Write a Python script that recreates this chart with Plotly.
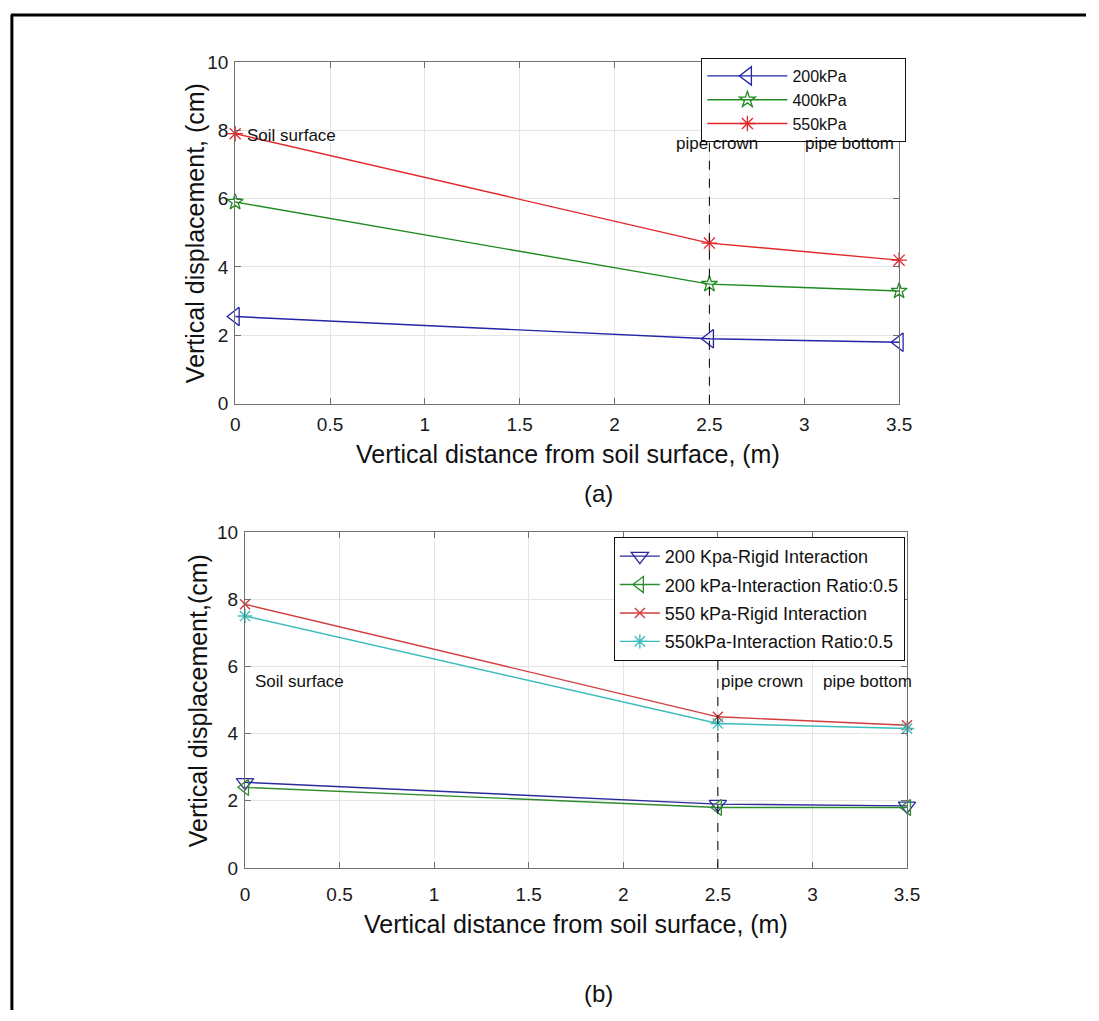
import plotly.graph_objects as go

# ---- data -------------------------------------------------------------
depth = [0, 2.5, 3.5]                      # vertical distance from soil surface (m)
pipe_crown_depth = 2.5

# (a) displacement for three surface pressures (cm)
disp_200kpa = [2.55, 1.9, 1.8]
disp_400kpa = [5.9, 3.5, 3.3]
disp_550kpa = [7.9, 4.7, 4.2]

# (b) rigid vs. partial interaction (cm)
disp_200_rigid = [2.55, 1.9, 1.85]
disp_200_ratio05 = [2.4, 1.8, 1.8]
disp_550_rigid = [7.85, 4.5, 4.25]
disp_550_ratio05 = [7.5, 4.3, 4.15]

x_ticks = [0, 0.5, 1, 1.5, 2, 2.5, 3, 3.5]
x_tick_text = ["0", "0.5", "1", "1.5", "2", "2.5", "3", "3.5"]
y_ticks = [0, 2, 4, 6, 8, 10]

W, H = 1099, 1021
FONT = "Liberation Sans, Arial, sans-serif"
PAD = "\u00a0" * 12   # extra room on the right of the short legend labels


def px(v):
    return v / W


def py(v):
    return 1 - v / H


fig = go.Figure()

# ---- panel (a) ----------------------------------------------------------
fig.add_trace(go.Scatter(
    x=depth, y=disp_200kpa, name="200kPa" + PAD, mode="lines+markers",
    line=dict(color="#2424a8", width=1.4),
    marker=dict(symbol="triangle-left-open", size=16, color="#2424a8", line=dict(width=1.3)),
    cliponaxis=False, xaxis="x", yaxis="y", legend="legend"))
fig.add_trace(go.Scatter(
    x=depth, y=disp_400kpa, name="400kPa" + PAD, mode="lines+markers",
    line=dict(color="#1f8a1f", width=1.4),
    marker=dict(symbol="star-open", size=12, color="#1f8a1f", line=dict(width=1.3)),
    cliponaxis=False, xaxis="x", yaxis="y", legend="legend"))
fig.add_trace(go.Scatter(
    x=depth, y=disp_550kpa, name="550kPa" + PAD, mode="lines+markers",
    line=dict(color="#e3262a", width=1.4),
    marker=dict(symbol="asterisk-open", size=13, color="#e3262a", line=dict(width=1.3, color="#e3262a")),
    cliponaxis=False, xaxis="x", yaxis="y", legend="legend"))

# ---- panel (b) ----------------------------------------------------------
fig.add_trace(go.Scatter(
    x=depth, y=disp_200_rigid, name="200 Kpa-Rigid Interaction", mode="lines+markers",
    line=dict(color="#2b2b9c", width=1.4),
    marker=dict(symbol="triangle-down-open", size=15, color="#2b2b9c", line=dict(width=1.3)),
    cliponaxis=False, xaxis="x2", yaxis="y2", legend="legend2", legendgroup="b1"))
fig.add_trace(go.Scatter(
    x=depth, y=disp_200_ratio05, name="200 kPa-Interaction Ratio:0.5", mode="lines+markers",
    line=dict(color="#2e8c2e", width=1.4),
    marker=dict(symbol="triangle-left-open", size=14, color="#2e8c2e", line=dict(width=1.3)),
    cliponaxis=False, xaxis="x2", yaxis="y2", legend="legend2", legendgroup="b2"))
fig.add_trace(go.Scatter(
    x=depth, y=disp_550_rigid, name="550 kPa-Rigid Interaction", mode="lines+markers",
    line=dict(color="#d23c3c", width=1.4),
    marker=dict(symbol="x-thin-open", size=10, color="#d23c3c", line=dict(width=1.4, color="#d23c3c")),
    cliponaxis=False, xaxis="x2", yaxis="y2", legend="legend2", legendgroup="b3"))
fig.add_trace(go.Scatter(
    x=depth, y=disp_550_ratio05, name="550kPa-Interaction Ratio:0.5", mode="lines+markers",
    line=dict(color="#3cbcbc", width=1.4),
    marker=dict(symbol="asterisk-open", size=12, color="#3cbcbc", line=dict(width=1.4, color="#3cbcbc")),
    cliponaxis=False, xaxis="x2", yaxis="y2", legend="legend2", legendgroup="b4"))

axis_common = dict(
    showline=True, linecolor="#6f6f6f", linewidth=1.2, mirror="ticks",
    ticks="inside", ticklen=6, tickcolor="#6f6f6f", tickwidth=1,
    showgrid=True, gridcolor="#e4e4e4", gridwidth=1, zeroline=False,
    tickfont=dict(family=FONT, size=19, color="#1a1a1a"),
)

fig.update_layout(
    width=W, height=H, margin=dict(l=0, r=0, t=0, b=0),
    paper_bgcolor="white", plot_bgcolor="white",
    font=dict(family=FONT, color="#111"),
    xaxis=dict(domain=[px(234), px(909)], range=[0, 3.5], tickvals=x_ticks, ticktext=x_tick_text,
               anchor="y", ticklabelstandoff=3, **axis_common),
    yaxis=dict(domain=[py(402), py(53)], range=[0, 10], tickvals=y_ticks, anchor="x",
               ticklabelstandoff=2, **axis_common),
    xaxis2=dict(domain=[px(244), px(917)], range=[0, 3.5], tickvals=x_ticks, ticktext=x_tick_text,
                anchor="y2", ticklabelstandoff=9, **axis_common),
    yaxis2=dict(domain=[py(876), py(533)], range=[0, 10], tickvals=y_ticks, anchor="x2",
                ticklabelstandoff=2, **axis_common),
    legend=dict(x=px(708), y=py(49), xanchor="left", yanchor="top",
                bgcolor="white", bordercolor="#111", borderwidth=1,
                font=dict(family=FONT, size=16, color="#111"), itemwidth=80,
                tracegroupgap=0),
    legend2=dict(x=px(619), y=py(538), xanchor="left", yanchor="top",
                 bgcolor="white", bordercolor="#111", borderwidth=1,
                 font=dict(family=FONT, size=18, color="#111"), itemwidth=40,
                 tracegroupgap=2, traceorder="grouped"),
    showlegend=True,
)

# pipe-crown marker lines
for xa, ya, top in (("x", "y", 7.8), ("x2", "y2", 6.75)):
    fig.add_shape(type="line", xref=xa, yref=ya, x0=pipe_crown_depth, x1=pipe_crown_depth,
                  y0=0, y1=top, line=dict(color="#111", width=1.1, dash="dash"), layer="above")

note_font = dict(family=FONT, size=17, color="#111")
# panel (a) notes
fig.add_annotation(x=0, y=7.85, xref="x", yref="y", text="Soil surface", showarrow=False,
                   xanchor="left", yanchor="middle", xshift=10, font=note_font)
fig.add_annotation(x=2.54, y=7.62, xref="x", yref="y", text="pipe crown", showarrow=False,
                   xanchor="center", yanchor="middle", font=note_font)
fig.add_annotation(x=3.24, y=7.62, xref="x", yref="y", text="pipe bottom", showarrow=False,
                   xanchor="center", yanchor="middle", font=note_font)
# panel (b) notes
fig.add_annotation(x=0, y=5.54, xref="x2", yref="y2", text="Soil surface", showarrow=False,
                   xanchor="left", yanchor="middle", xshift=8, font=note_font)
fig.add_annotation(x=2.735, y=5.54, xref="x2", yref="y2", text="pipe crown", showarrow=False,
                   xanchor="center", yanchor="middle", font=note_font)
fig.add_annotation(x=3.29, y=5.54, xref="x2", yref="y2", text="pipe bottom", showarrow=False,
                   xanchor="center", yanchor="middle", font=note_font)


def paper_text(x, y, text, size, angle=0):
    fig.add_annotation(x=px(x), y=py(y), xref="paper", yref="paper", showarrow=False,
                       xanchor="center", yanchor="middle", text=text, textangle=angle,
                       font=dict(family=FONT, size=size, color="#111"))


# axis titles
paper_text(572, 453, "Vertical distance from soil surface, (m)", 25)
paper_text(193, 228, "Vertical displacement, (cm)", 25, -90)
paper_text(580, 933, "Vertical distance from soil surface, (m)", 25)
paper_text(197, 705, "Vertical displacement,(cm)", 25, -90)

# panel captions
paper_text(603, 494, "(a)", 24)
paper_text(603, 1004, "(b)", 24)

# page frame (top and left edges)
fig.add_shape(type="line", xref="paper", yref="paper", x0=px(6), x1=1, y0=py(5), y1=py(5),
              line=dict(color="black", width=3))
fig.add_shape(type="line", xref="paper", yref="paper", x0=px(7), x1=px(7), y0=py(5), y1=0,
              line=dict(color="black", width=3))

fig.write_html("out.html")
